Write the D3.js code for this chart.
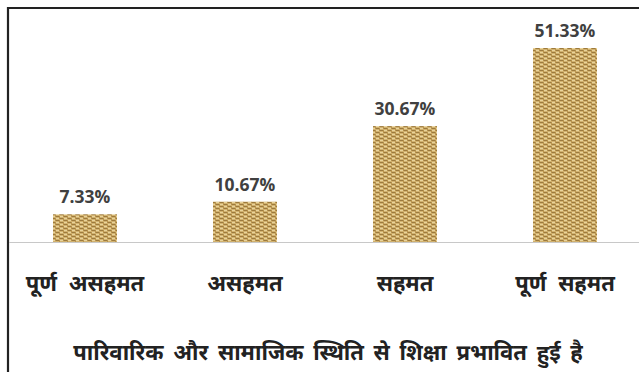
<!DOCTYPE html>
<html><head><meta charset="utf-8">
<script src="https://cdn.jsdelivr.net/npm/d3@7"></script>
<style>body{margin:0;background:#fff;}svg{display:block;}</style>
</head><body>
<svg id="c" width="639" height="372"></svg>
<script>
const categories = ["पूर्ण असहमत", "असहमत", "सहमत", "पूर्ण सहमत"];
const values = [7.33, 10.67, 30.67, 51.33];
const valueLabels = ["7.33%", "10.67%", "30.67%", "51.33%"];
const title = "पारिवारिक और सामाजिक स्थिति से शिक्षा प्रभावित हुई है";

const svg = d3.select("#c");
const W = 639, H = 372;
const axisY = 242;

// woven texture
const defs = svg.append("defs");
const pat = defs.append("pattern").attr("id","weave").attr("patternUnits","userSpaceOnUse")
  .attr("width",8).attr("height",8);
pat.append("rect").attr("width",8).attr("height",8).attr("fill","#d2b26f");
const dark = "#9c7a3e", mid = "#b8944f", light = "#e9d49c";
[[0,0,3,1,dark],[4,2,3,1,dark],[0,4,3,1,dark],[4,6,3,1,dark],
 [3,0,1,3,mid],[7,2,1,3,mid],[3,4,1,3,mid],[7,6,1,2,mid],[7,0,1,1,mid],
 [0,2,3,1,light],[4,0,3,1,light],[0,6,3,1,light],[4,4,3,1,light]]
 .forEach(r=>pat.append("rect").attr("x",r[0]).attr("y",r[1]).attr("width",r[2]).attr("height",r[3]).attr("fill",r[4]));

// frame
svg.append("path").attr("d","M8,372 V8 H639").attr("fill","none").attr("stroke","#222").attr("stroke-width",2.2);

const x = d3.scaleBand().domain(categories).range([5, 645]).paddingInner(0.6).paddingOuter(0.3);
const y = d3.scaleLinear().domain([0, 51.33]).range([axisY, 48]);

svg.selectAll("rect.bar").data(values).join("rect").attr("class","bar")
  .attr("x",(d,i)=>x(categories[i])).attr("width",x.bandwidth())
  .attr("y",d=>y(d)).attr("height",d=>axisY-y(d))
  .attr("fill","url(#weave)");

svg.append("line").attr("x1",9).attr("x2",W).attr("y1",axisY+0.5).attr("y2",axisY+0.5)
  .attr("stroke","#c8c8c8").attr("stroke-width",1.2);

svg.selectAll("text.val").data(values).join("text").attr("class","val")
  .attr("x",(d,i)=>x(categories[i])+x.bandwidth()/2).attr("y",d=>y(d)-11)
  .attr("text-anchor","middle").attr("font-family","'Open Sans', 'Liberation Sans', sans-serif")
  .attr("font-weight","bold").attr("font-size",17.5).attr("fill","#404040")
  .text((d,i)=>valueLabels[i]);

svg.selectAll("text.cat").data(categories).join("text").attr("class","cat")
  .attr("x",d=>x(d)+x.bandwidth()/2).attr("y",291)
  .attr("text-anchor","middle").attr("font-family","'Noto Sans', sans-serif")
  .attr("font-weight","bold").attr("font-size",22).attr("word-spacing",6).attr("fill","#222")
  .text(d=>d);

svg.append("text").attr("x",328).attr("y",360).attr("text-anchor","middle")
  .attr("font-family","'Noto Sans', sans-serif").attr("font-weight","bold").attr("font-size",22)
  .attr("word-spacing",4).attr("fill","#222")
  .text(title);
</script>
</body></html>
